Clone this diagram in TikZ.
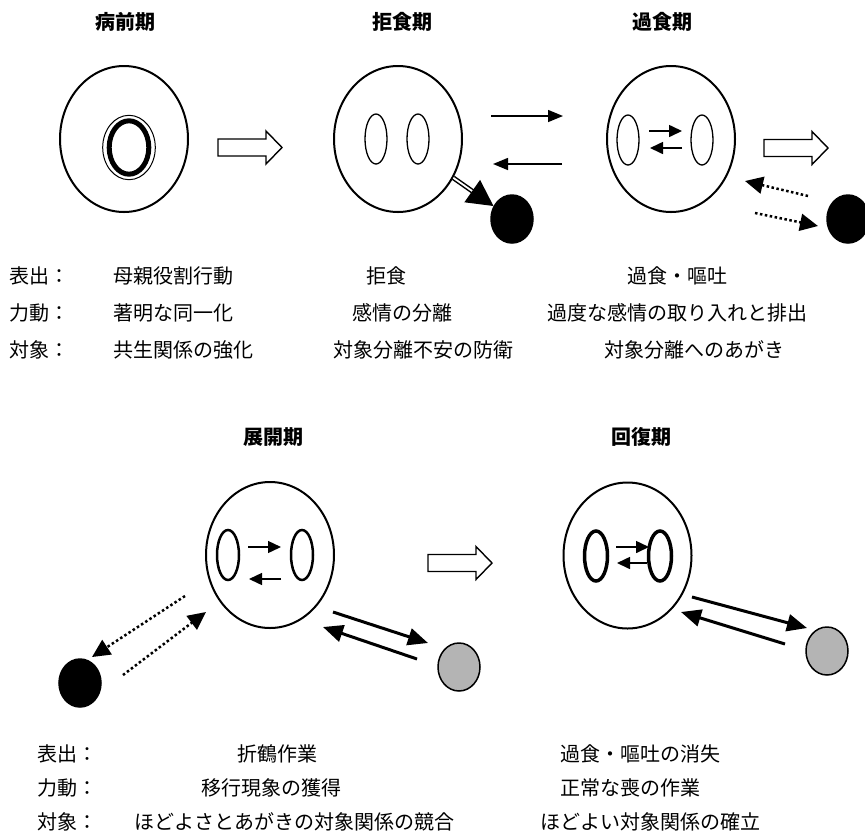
\documentclass[tikz,border=0pt]{standalone}
\usepackage{fontspec}
\newfontfamily\jp{Noto Sans CJK JP}
\usetikzlibrary{arrows.meta,shapes.geometric}
\definecolor{objgray}{HTML}{B4B4B4}
\begin{document}
\begin{tikzpicture}[x=1pt,y=-1pt,
  body/.style={font=\jp\fontsize{20}{24}\selectfont, inner sep=0pt},
  ttl/.style={font=\jp\bfseries\fontsize{20}{24}\selectfont, inner sep=0pt},
  face/.style={draw, ellipse, line width=2pt, minimum width=128pt, minimum height=146pt, inner sep=0pt},
  eye/.style={draw, ellipse, line width=1.3pt, minimum width=22pt, minimum height=50pt, inner sep=0pt},
  obj/.style={draw, ellipse, line width=1.5pt, minimum width=42pt, minimum height=48pt, inner sep=0pt},
  small/.style={line width=1.6pt, -{Triangle[length=13pt,width=12pt]}},
  longa/.style={line width=1.5pt, -{Triangle[length=15pt,width=12pt]}},
  dots/.style={line width=2.5pt, dash pattern=on 2.5pt off 2.5pt, -{Triangle[length=18pt,width=17pt]}},
  solid3/.style={line width=3pt, -{Triangle[length=20pt,width=17pt]}},
  hollow/.pic={\draw[line width=1.4pt, fill=white] (-32,-8.5) -- (16,-8.5) -- (16,-16.5) -- (32,0) -- (16,16.5) -- (16,8.5) -- (-32,8.5) -- cycle;}
]
\useasboundingbox (0,0) rectangle (865,831);
\clip (0,0) rectangle (865,831);

% titles
\node[ttl] (T1) at (125,22) {病前期};
\node[ttl] (T2) at (402,22) {拒食期};
\node[ttl] (T3) at (662,22) {過食期};
\node[ttl] (T4) at (273,437) {展開期};
\node[ttl] (T5) at (641,437) {回復期};

% stage 1
\node[face] (A) at (124,139) {};
\node[draw, ellipse, line width=1pt, minimum width=52.6pt, minimum height=64.4pt, inner sep=0pt] (Aring) at (129,147.5) {};
\node[draw, ellipse, line width=5pt, minimum width=39.6pt, minimum height=53.4pt, inner sep=0pt] (Acore) at (129,147.5) {};
\pic (H1) at (250,147.5) {hollow};

% stage 2
\node[face] (B) at (398,139) {};
\node[eye] (Bl) at (376,139) {};
\node[eye] (Br) at (418,139) {};
\node[obj, fill=black] (Bo) at (512,219) {};
\draw[double=white, double distance=1.8pt, line width=1.5pt, -{Triangle[length=26pt,width=27pt]}] (B) -- (Bo);
\coordinate (b1s) at (491,116); \coordinate (b1e) at (563,116);
\coordinate (b2s) at (562,164); \coordinate (b2e) at (493,164);
\draw[longa] (b1s) -- (b1e);
\draw[longa] (b2s) -- (b2e);

% stage 3
\node[face] (C) at (671,139) {};
\node[eye] (Cl) at (628,140) {};
\node[eye] (Cr) at (702,140) {};
\coordinate (c1s) at (649,131); \coordinate (c1e) at (682,131);
\coordinate (c2s) at (682,148); \coordinate (c2e) at (650,148);
\draw[small] (c1s) -- (c1e);
\draw[small] (c2s) -- (c2e);
\pic (H2) at (796,148) {hollow};
\node[obj, fill=black] (Co) at (848,219) {};
\coordinate (c3s) at (808,196); \coordinate (c3e) at (745,181);
\coordinate (c4s) at (755,213); \coordinate (c4e) at (818,226);
\draw[dots] (c3s) -- (c3e);
\draw[dots] (c4s) -- (c4e);

% stage 4
\node[face] (D) at (270,555) {};
\node[eye, line width=2.5pt] (Dl) at (228,555) {};
\node[eye, line width=2.5pt] (Dr) at (302,555) {};
\coordinate (d1s) at (248,547); \coordinate (d1e) at (281,547);
\coordinate (d2s) at (281,579); \coordinate (d2e) at (249,579);
\draw[small, line width=1.4pt] (d1s) -- (d1e);
\draw[small, line width=1.4pt] (d2s) -- (d2e);
\node[obj, fill=black] (Do) at (80,683) {};
\node[obj, fill=objgray] (Dg) at (459,667) {};
\coordinate (d3s) at (185,596); \coordinate (d3e) at (92,657);
\coordinate (d4s) at (123,675); \coordinate (d4e) at (206,612);
\draw[dots] (d3s) -- (d3e);
\draw[dots] (d4s) -- (d4e);
\coordinate (d5s) at (333,612); \coordinate (d5e) at (428,643);
\coordinate (d6s) at (417,659); \coordinate (d6e) at (323,627);
\draw[solid3] (d5s) -- (d5e);
\draw[solid3] (d6s) -- (d6e);
\pic (H3) at (460,563) {hollow};

% stage 5
\node[face] (E) at (627.5,555.5) {};
\node[eye, line width=3.5pt, minimum width=23pt, minimum height=50pt] (El) at (596,556) {};
\node[eye, line width=3.5pt, minimum width=23pt, minimum height=50pt] (Er) at (660,556) {};
\coordinate (e1s) at (616,547); \coordinate (e1e) at (649,547);
\coordinate (e2s) at (647,563); \coordinate (e2e) at (617,563);
\draw[small, line width=1.6pt] (e1s) -- (e1e);
\draw[small, line width=1.6pt] (e2s) -- (e2e);
\node[obj, fill=objgray] (Eg) at (827,651) {};
\coordinate (e3s) at (692,597); \coordinate (e3e) at (807,628);
\coordinate (e4s) at (785,644); \coordinate (e4e) at (681,612);
\draw[solid3] (e3s) -- (e3e);
\draw[solid3] (e4s) -- (e4e);

% top texts
\node[body, anchor=west] (L1) at (9,276) {表出：};
\node[body, anchor=west] (L2) at (9,313) {力動：};
\node[body, anchor=west] (L3) at (9,350) {対象：};
\node[body, anchor=west] (a1) at (113,276) {母親役割行動};
\node[body, anchor=west] (a2) at (113,313) {著明な同一化};
\node[body, anchor=west] (a3) at (113,350) {共生関係の強化};
\node[body] (b1) at (386.5,276) {拒食};
\node[body] (b2) at (402,313) {感情の分離};
\node[body] (b3) at (423.5,350) {対象分離不安の防衛};
\node[body] (c1) at (677,276) {過食・嘔吐};
\node[body] (c2) at (677,313) {過度な感情の取り入れと排出};
\node[body] (c3) at (694,350) {対象分離へのあがき};

% bottom texts
\node[body, anchor=west] (M1) at (37,754) {表出：};
\node[body, anchor=west] (M2) at (37,788) {力動：};
\node[body, anchor=west] (M3) at (37,822) {対象：};
\node[body] (d1) at (277,754) {折鶴作業};
\node[body] (d2) at (271,788) {移行現象の獲得};
\node[body, anchor=west] (d3) at (134,822) {ほどよさとあがきの対象関係の競合};
\node[body, anchor=west] (e1) at (560,754) {過食・嘔吐の消失};
\node[body, anchor=west] (e2) at (560,788) {正常な喪の作業};
\node[body, anchor=west] (e3) at (540,822) {ほどよい対象関係の確立};
\end{tikzpicture}
\end{document}
